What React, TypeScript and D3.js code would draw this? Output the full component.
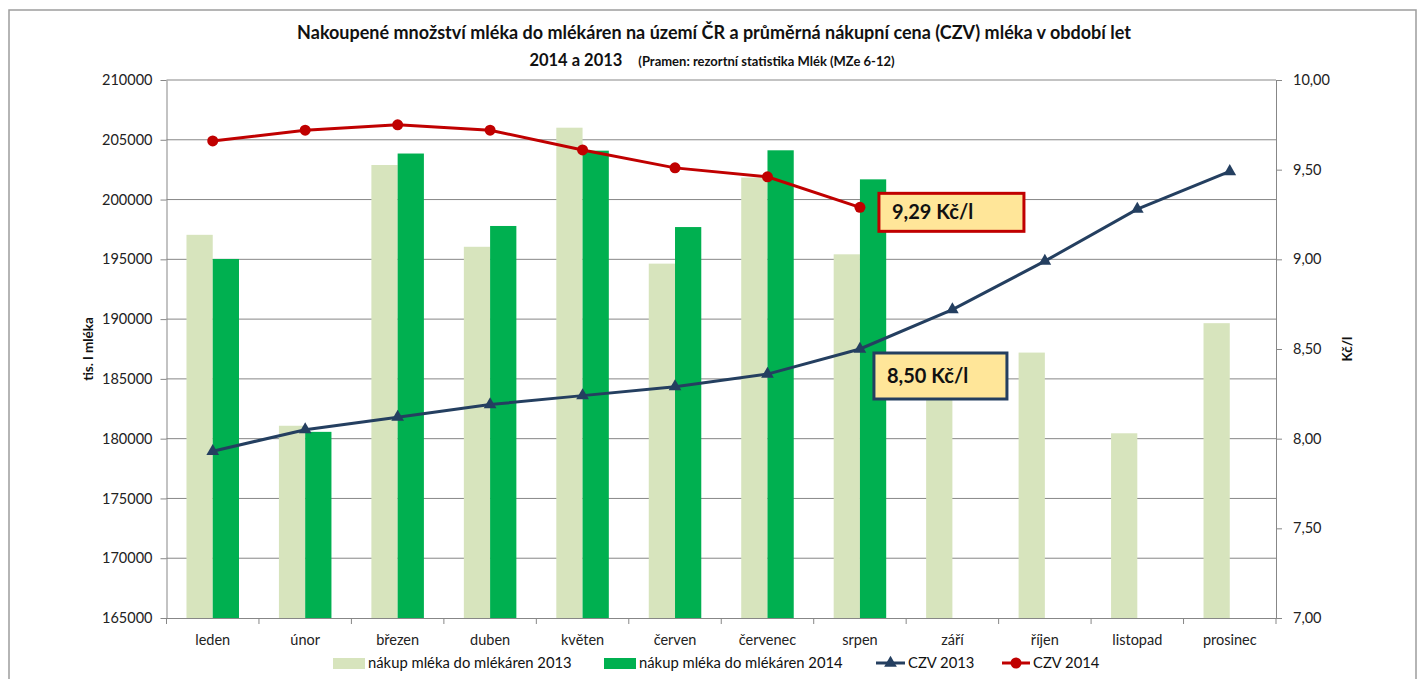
import React, { useEffect, useRef } from 'react';
import * as d3 from 'd3';

// months on the category axis
const months = ['leden', 'únor', 'březen', 'duben', 'květen', 'červen', 'červenec', 'srpen', 'září', 'říjen', 'listopad', 'prosinec'];
// purchased milk, thousands of litres
const purchase2013 = [197050, 181080, 202890, 196050, 206010, 194640, 201840, 195420, 185500, 187200, 180450, 189660];
const purchase2014 = [195030, 180570, 203850, 197790, 204090, 197700, 204120, 201690];
// average purchase price CZV, Kč/l
const czv2013 = [7.93, 8.05, 8.12, 8.19, 8.24, 8.29, 8.36, 8.5, 8.72, 8.99, 9.28, 9.49];
const czv2014 = [9.66, 9.72, 9.75, 9.72, 9.61, 9.51, 9.46, 9.29];
const leftTicks = [165000, 170000, 175000, 180000, 185000, 190000, 195000, 200000, 205000, 210000];
const rightTicks = [7, 7.5, 8, 8.5, 9, 9.5, 10];
const legendItems = ['nákup mléka do mlékáren 2013', 'nákup mléka do mlékáren 2014', 'CZV 2013', 'CZV 2014'];

const FONT = 'Lato, "Open Sans", sans-serif';
const C13 = '#d7e4bd';
const C14 = '#00b050';
const NAVY = '#243f60';
const RED = '#c00000';
const GRID = '#878787';

export default function App() {
  const ref = useRef<SVGSVGElement>(null);

  useEffect(() => {
    const svg = d3.select(ref.current);
    svg.selectAll('*').remove();

    const left = 166.5;
    const right = 1276;
    const top = 80;
    const bottom = 618;

    const x = d3.scaleBand().domain(months).range([left, right]).padding(0);
    const yL = d3.scaleLinear().domain([165000, 210000]).range([bottom, top]);
    const yR = d3.scaleLinear().domain([7, 10]).range([bottom, top]);
    const bw = x.bandwidth() * 0.284;
    const off = (x.bandwidth() - 2 * bw) / 2;
    const cx = (m: string) => x(m)! + x.bandwidth() / 2;

    // outer chart frame
    svg.append('rect')
      .attr('x', 9).attr('y', 10).attr('width', 1407).attr('height', 720)
      .attr('fill', '#fff').attr('stroke', '#9d9d9d').attr('stroke-width', 1.5);

    // title
    svg.append('text')
      .attr('x', 714).attr('y', 39).attr('text-anchor', 'middle')
      .attr('font-family', FONT).attr('font-weight', 'bold').attr('font-size', 18).attr('fill', '#111')
      .text('Nakoupené množství mléka do mlékáren na území ČR a průměrná nákupní cena (CZV) mléka v období let');
    const t2 = svg.append('text')
      .attr('x', 712).attr('y', 66).attr('text-anchor', 'middle')
      .attr('font-family', FONT).attr('font-weight', 'bold').attr('fill', '#111');
    t2.append('tspan').attr('font-size', 16.5).text('2014 a 2013');
    t2.append('tspan').attr('font-size', 13).attr('dx', 16).text('(Pramen: rezortní statistika Mlék (MZe 6-12)');

    // gridlines
    svg.append('g').selectAll('line').data(leftTicks.slice(1)).enter().append('line')
      .attr('x1', left).attr('x2', right)
      .attr('y1', (d) => yL(d)).attr('y2', (d) => yL(d))
      .attr('stroke', GRID).attr('stroke-width', 1);

    // bars 2013
    svg.append('g').selectAll('rect').data(purchase2013).enter().append('rect')
      .attr('x', (d, i) => x(months[i])! + off)
      .attr('y', (d) => yL(d))
      .attr('width', bw)
      .attr('height', (d) => bottom - yL(d))
      .attr('fill', C13);

    // bars 2014
    svg.append('g').selectAll('rect').data(purchase2014).enter().append('rect')
      .attr('x', (d, i) => x(months[i])! + off + bw)
      .attr('y', (d) => yL(d))
      .attr('width', bw)
      .attr('height', (d) => bottom - yL(d))
      .attr('fill', C14);

    // left axis
    const axL = svg.append('g')
      .attr('transform', `translate(${left},0)`)
      .call(d3.axisLeft(yL).tickValues(leftTicks).tickSize(6).tickSizeOuter(0).tickPadding(8).tickFormat((d: any) => `${d}`));
    // right axis
    const axR = svg.append('g')
      .attr('transform', `translate(${right},0)`)
      .call(d3.axisRight(yR).tickValues(rightTicks).tickSize(6).tickSizeOuter(0).tickPadding(11)
        .tickFormat((d: any) => d.toFixed(2).replace('.', ',')));
    // bottom axis (labels at centres, ticks between categories)
    const axB = svg.append('g')
      .attr('transform', `translate(0,${bottom})`)
      .call(d3.axisBottom(x).tickSize(0).tickSizeOuter(0).tickPadding(17));
    svg.append('g').selectAll('line').data([...months.map((m) => x(m)!), right]).enter().append('line')
      .attr('x1', (d) => d).attr('x2', (d) => d)
      .attr('y1', bottom).attr('y2', bottom + 6)
      .attr('stroke', GRID);

    [axL, axR, axB].forEach((g) => {
      g.selectAll('path, line').attr('stroke', GRID).attr('stroke-width', 1);
      g.selectAll('text').attr('font-family', FONT).attr('font-size', 14.5).attr('fill', '#222');
    });
    axR.selectAll('.tick text').attr('text-anchor', 'start');

    // axis titles
    svg.append('text')
      .attr('transform', 'translate(93,349) rotate(-90)').attr('text-anchor', 'middle')
      .attr('font-family', FONT).attr('font-weight', 'bold').attr('font-size', 13.5).attr('fill', '#111')
      .text('tis. l mléka');
    svg.append('text')
      .attr('transform', 'translate(1352,349) rotate(-90)').attr('text-anchor', 'middle')
      .attr('font-family', FONT).attr('font-weight', 'bold').attr('font-size', 13.5).attr('fill', '#111')
      .text('Kč/l');

    // lines
    const line = d3.line<number>().x((d, i) => cx(months[i])).y((d) => yR(d));
    svg.append('path').datum(czv2013).attr('d', line).attr('fill', 'none').attr('stroke', NAVY).attr('stroke-width', 3);
    svg.append('g').selectAll('path').data(czv2013).enter().append('path')
      .attr('d', d3.symbol(d3.symbolTriangle, 70)())
      .attr('transform', (d, i) => `translate(${cx(months[i])},${yR(d)})`)
      .attr('fill', NAVY);
    svg.append('path').datum(czv2014).attr('d', line).attr('fill', 'none').attr('stroke', RED).attr('stroke-width', 3);
    svg.append('g').selectAll('circle').data(czv2014).enter().append('circle')
      .attr('cx', (d, i) => cx(months[i])).attr('cy', (d) => yR(d)).attr('r', 5.5)
      .attr('fill', RED);

    // callouts for the last 2014 month
    const last = czv2014.length - 1;
    const callout = (val: number, px: number, py: number, w: number, h: number, color: string) => {
      svg.append('rect')
        .attr('x', px).attr('y', py).attr('width', w).attr('height', h)
        .attr('fill', '#ffe699').attr('stroke', color).attr('stroke-width', 3);
      svg.append('text')
        .attr('x', px + 13).attr('y', py + h / 2 + 7)
        .attr('font-family', FONT).attr('font-weight', 'bold').attr('font-size', 20).attr('fill', '#111')
        .text(`${val.toFixed(2).replace('.', ',')} Kč/l`);
    };
    callout(czv2014[last], cx(months[last]) + 19, yR(czv2014[last]) - 14, 145, 38, RED);
    callout(czv2013[last], cx(months[last]) + 14, yR(czv2013[last]) + 4, 133, 46, NAVY);

    // legend
    const lg = svg.append('g').attr('font-family', FONT).attr('font-size', 14.8).attr('fill', '#111');
    lg.append('rect').attr('x', 333).attr('y', 658).attr('width', 32).attr('height', 11).attr('fill', C13);
    lg.append('text').attr('x', 368).attr('y', 668).text(legendItems[0]);
    lg.append('rect').attr('x', 604).attr('y', 658).attr('width', 32).attr('height', 11).attr('fill', C14);
    lg.append('text').attr('x', 639).attr('y', 668).text(legendItems[1]);
    lg.append('line').attr('x1', 876).attr('x2', 905).attr('y1', 663).attr('y2', 663).attr('stroke', NAVY).attr('stroke-width', 3);
    lg.append('path').attr('d', d3.symbol(d3.symbolTriangle, 70)()).attr('transform', 'translate(890.5,663)').attr('fill', NAVY);
    lg.append('text').attr('x', 908).attr('y', 668).text(legendItems[2]);
    lg.append('line').attr('x1', 1002).attr('x2', 1030).attr('y1', 663).attr('y2', 663).attr('stroke', RED).attr('stroke-width', 3);
    lg.append('circle').attr('cx', 1016).attr('cy', 663).attr('r', 5.5).attr('fill', RED);
    lg.append('text').attr('x', 1033).attr('y', 668).text(legendItems[3]);
  }, []);

  return (
    <svg ref={ref} width={1421} height={679} style={{ position: 'absolute', left: 0, top: 0, background: '#fff' }} />
  );
}
